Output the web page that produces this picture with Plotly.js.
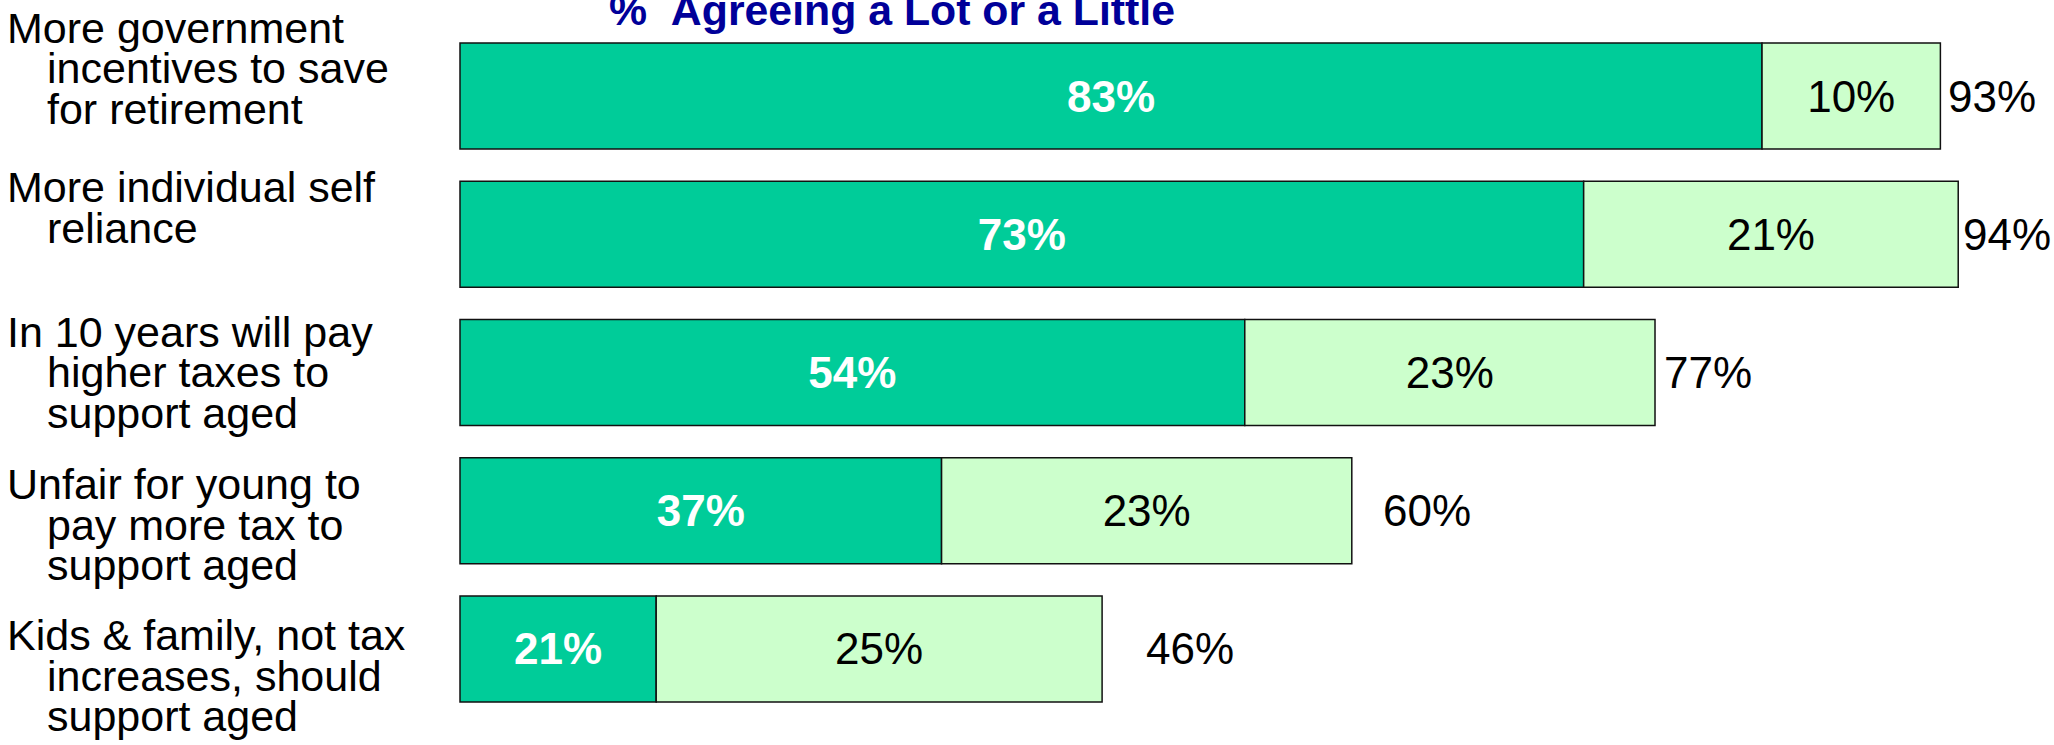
<!DOCTYPE html>
<html><head><meta charset="utf-8">
<script src="https://cdn.plot.ly/plotly-3.0.1.min.js"></script>
<style>html,body{margin:0;padding:0;background:#fff;overflow:hidden}#chart{width:2054px;height:745px}</style>
</head><body><div id="chart"></div>
<script>
// ---- data ----
const categoryLines = [
  ["More government", "incentives to save", "for retirement"],
  ["More individual self", "reliance"],
  ["In 10 years will pay", "higher taxes to", "support aged"],
  ["Unfair for young to", "pay more tax to", "support aged"],
  ["Kids & family, not tax", "increases, should", "support aged"]
];
const categories = categoryLines.map(l => l.join(" "));
const agreeLot = [83, 73, 54, 37, 21];
const agreeLittle = [10, 21, 23, 23, 25];
const agreeTotal = [93, 94, 77, 60, 46];
const chartTitle = "%\u00a0\u00a0Agreeing a Lot or a Little";
const axisStart = 10;

// ---- styling / layout ----
const FONT = "Liberation Sans, Arial, Helvetica, sans-serif";
const W = 2054, H = 745;
const M = {l: 458, r: 54, t: 27, b: 27};
const plotW = W - M.l - M.r, plotH = H - M.t - M.b;
const pxPerUnit = 17.836;
const xMin = axisStart - (460 - M.l) / pxPerUnit;
const xMax = xMin + plotW / pxPerUnit;
const labelFirstBaseline = [42.7, 202.3, 346.7, 499, 650];
const labelLinePitch = 40.7;
const totalShift = [6, 3, 7, 29, 42];
const pct = v => v + "%";
const esc = s => s.replace(/&/g, "&amp;");

const outline = {color: "#111111", width: 1.5};
const traces = [
  {
    type: "bar", orientation: "h",
    y: categories,
    x: agreeLot.map(v => v - axisStart),
    base: axisStart,
    text: agreeLot.map(pct),
    textposition: "inside", insidetextanchor: "middle", textangle: 0,
    constraintext: "none",
    textfont: {family: FONT, size: 44, color: "#ffffff", weight: "bold"},
    marker: {color: "#00CC99", line: outline},
    hoverinfo: "none", showlegend: false
  },
  {
    type: "bar", orientation: "h",
    y: categories,
    x: agreeLittle,
    base: agreeLot,
    text: agreeLittle.map(pct),
    textposition: "inside", insidetextanchor: "middle", textangle: 0,
    constraintext: "none",
    textfont: {family: FONT, size: 44, color: "#000000"},
    marker: {color: "#CCFFCC", line: outline},
    hoverinfo: "none", showlegend: false
  }
];

const annotations = [];
categoryLines.forEach((lines, i) => {
  lines.forEach((line, k) => {
    const py = labelFirstBaseline[i] + k * labelLinePitch - 15;
    const px = k === 0 ? 5 : 45;
    annotations.push({
      text: esc(line), showarrow: false,
      xref: "paper", yref: "paper",
      x: (px - M.l) / plotW, y: 1 - (py - M.t) / plotH,
      xanchor: "left", yanchor: "middle",
      font: {family: FONT, size: 43, color: "#000000"}
    });
  });
});
agreeTotal.forEach((v, i) => {
  annotations.push({
    text: pct(v), showarrow: false,
    xref: "x", yref: "y", x: v, y: categories[i],
    xanchor: "left", yanchor: "middle", xshift: totalShift[i],
    font: {family: FONT, size: 44, color: "#000000"}
  });
});

const layout = {
  width: W, height: H,
  margin: M,
  paper_bgcolor: "#ffffff", plot_bgcolor: "#ffffff",
  barmode: "overlay", bargap: 0.233,
  title: {
    text: "<b>" + chartTitle + "</b>",
    font: {family: FONT, size: 42.8, color: "#000099"},
    xref: "container", yref: "container",
    x: 892 / W, xanchor: "center",
    y: 1 - 10 / H, yanchor: "middle"
  },
  xaxis: {range: [xMin, xMax], visible: false, fixedrange: true},
  yaxis: {
    type: "category", categoryorder: "array", categoryarray: categories,
    range: [categories.length - 0.5, -0.5],
    showticklabels: false, showgrid: false, zeroline: false, showline: false,
    ticks: "", fixedrange: true
  },
  annotations: annotations,
  font: {family: FONT}
};

Plotly.newPlot("chart", traces, layout, {displayModeBar: false, staticPlot: true});
</script>
</body></html>
